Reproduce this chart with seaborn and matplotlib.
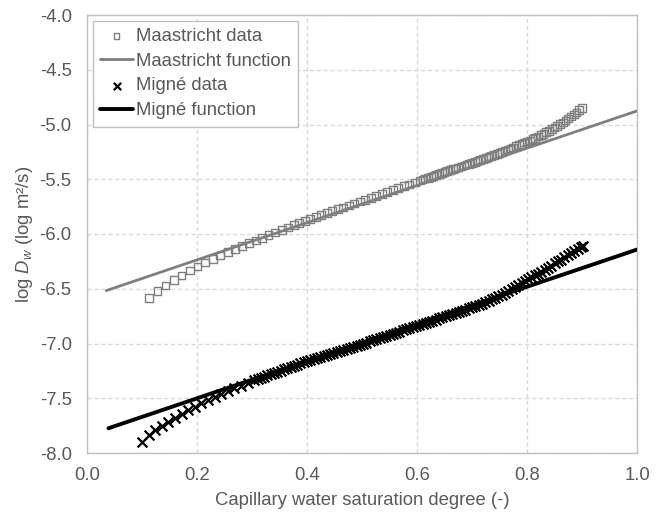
import matplotlib
matplotlib.use("Agg")
import matplotlib.pyplot as plt
import seaborn as sns
from matplotlib.ticker import FormatStrFormatter

# ---------------- data ----------------
maas_x = [0.113, 0.128, 0.143, 0.158, 0.172, 0.187, 0.201, 0.215, 0.229, 0.242,
          0.256, 0.269, 0.282, 0.295, 0.307, 0.318, 0.330, 0.342, 0.354, 0.365,
          0.376, 0.386, 0.396, 0.406, 0.416, 0.426, 0.436, 0.446, 0.456, 0.466,
          0.476, 0.486, 0.496, 0.506, 0.516, 0.526, 0.536, 0.546, 0.556, 0.566,
          0.576, 0.586, 0.596, 0.605, 0.610, 0.615, 0.620, 0.625, 0.630, 0.635,
          0.640, 0.645, 0.650, 0.655, 0.660, 0.665, 0.670, 0.675, 0.680, 0.685,
          0.690, 0.695, 0.700, 0.705, 0.710, 0.715, 0.720, 0.725, 0.730, 0.735,
          0.740, 0.745, 0.750, 0.755, 0.760, 0.765, 0.770, 0.775, 0.780, 0.785,
          0.790, 0.795, 0.800, 0.805, 0.810, 0.815, 0.820, 0.825, 0.830, 0.835,
          0.840, 0.845, 0.850, 0.855, 0.860, 0.865, 0.870, 0.875, 0.880, 0.885,
          0.890, 0.895, 0.900]
maas_y = [-6.584, -6.523, -6.470, -6.422, -6.378, -6.335, -6.297, -6.260, -6.226, -6.196,
          -6.165, -6.136, -6.108, -6.082, -6.058, -6.034, -6.008, -5.986, -5.963, -5.942,
          -5.920, -5.900, -5.880, -5.862, -5.844, -5.827, -5.809, -5.792, -5.774, -5.757,
          -5.739, -5.722, -5.704, -5.687, -5.669, -5.652, -5.634, -5.617, -5.599, -5.582,
          -5.564, -5.547, -5.529, -5.511, -5.503, -5.494, -5.486, -5.477, -5.469, -5.460,
          -5.452, -5.443, -5.435, -5.426, -5.418, -5.409, -5.401, -5.392, -5.384, -5.375,
          -5.367, -5.358, -5.350, -5.341, -5.332, -5.323, -5.314, -5.305, -5.296, -5.287,
          -5.277, -5.268, -5.258, -5.249, -5.239, -5.229, -5.219, -5.209, -5.198, -5.188,
          -5.177, -5.166, -5.155, -5.145, -5.134, -5.122, -5.110, -5.098, -5.085, -5.071,
          -5.057, -5.043, -5.028, -5.012, -4.996, -4.980, -4.963, -4.945, -4.927, -4.909,
          -4.890, -4.870, -4.850]

maas_fx = [0.035, 1.0]
maas_fy = [-6.517, -4.876]

migne_x = [0.100, 0.112, 0.124, 0.136, 0.148, 0.160, 0.172, 0.184, 0.196, 0.208,
           0.220, 0.232, 0.244, 0.256, 0.268, 0.280, 0.292,
           0.304, 0.310, 0.316, 0.322, 0.328, 0.334, 0.340, 0.346, 0.352, 0.358,
           0.364, 0.370, 0.376, 0.382, 0.388, 0.394, 0.400, 0.406, 0.412, 0.418,
           0.424, 0.430, 0.436, 0.442, 0.448, 0.454, 0.460, 0.466, 0.472, 0.478,
           0.484, 0.490, 0.496, 0.502, 0.508, 0.514, 0.520, 0.526, 0.532, 0.538,
           0.544, 0.550, 0.556, 0.562, 0.568, 0.574, 0.580, 0.586, 0.592, 0.598,
           0.604, 0.610, 0.616, 0.622, 0.628, 0.634, 0.640, 0.646, 0.652, 0.658,
           0.664, 0.670, 0.676, 0.682, 0.688, 0.694, 0.700, 0.706, 0.712, 0.718,
           0.724, 0.730, 0.736, 0.742, 0.748, 0.754, 0.760, 0.766, 0.772, 0.778,
           0.784, 0.790, 0.796, 0.802, 0.808, 0.814, 0.820, 0.826, 0.832, 0.838,
           0.844, 0.850, 0.856, 0.862, 0.868, 0.874, 0.880, 0.886, 0.892, 0.898,
           0.902]
migne_y = [-7.896, -7.835, -7.790, -7.750, -7.713, -7.678, -7.645, -7.611, -7.578, -7.546,
           -7.516, -7.488, -7.461, -7.435, -7.410, -7.386, -7.362,
           -7.335, -7.324, -7.313, -7.302, -7.291, -7.280, -7.269, -7.258, -7.248, -7.236,
           -7.225, -7.215, -7.204, -7.193, -7.181, -7.171, -7.160, -7.151, -7.142, -7.132,
           -7.123, -7.113, -7.104, -7.095, -7.085, -7.076, -7.067, -7.058, -7.049, -7.039,
           -7.030, -7.020, -7.011, -7.002, -6.991, -6.981, -6.971, -6.962, -6.952, -6.941,
           -6.931, -6.921, -6.912, -6.902, -6.891, -6.881, -6.871, -6.862, -6.852, -6.841,
           -6.831, -6.821, -6.811, -6.802, -6.791, -6.781, -6.771, -6.761, -6.751, -6.741,
           -6.731, -6.721, -6.711, -6.701, -6.690, -6.680, -6.670, -6.659, -6.648, -6.635,
           -6.622, -6.609, -6.596, -6.583, -6.568, -6.553, -6.536, -6.520, -6.503, -6.485,
           -6.467, -6.450, -6.433, -6.415, -6.396, -6.378, -6.361, -6.343, -6.325, -6.306,
           -6.288, -6.269, -6.251, -6.233, -6.213, -6.195, -6.177, -6.158, -6.140, -6.121,
           -6.110]

migne_fx = [0.039, 1.0]
migne_fy = [-7.774, -6.142]

x_ticks = [0.0, 0.2, 0.4, 0.6, 0.8, 1.0]
y_ticks = [-8.0, -7.5, -7.0, -6.5, -6.0, -5.5, -5.0, -4.5, -4.0]

x_label = "Capillary water saturation degree (-)"
y_label = r"log $D_w$ (log m²/s)"

# ---------------- style ----------------
sns.set_theme(style="white")
plt.rcParams["font.family"] = ["Liberation Sans", "DejaVu Sans"]
plt.rcParams["mathtext.fontset"] = "custom"
plt.rcParams["mathtext.rm"] = "Liberation Sans"
plt.rcParams["mathtext.it"] = "Liberation Sans:italic"
plt.rcParams["axes.unicode_minus"] = False

TXT = "#595959"
FS = 13.3

fig = plt.figure(figsize=(6.66, 5.15), dpi=100)
ax = fig.add_axes([87 / 666, 1 - 453 / 515, 550 / 666, 438 / 515])

sns.scatterplot(x=maas_x, y=maas_y, marker="s", s=30, facecolor="none",
                edgecolor="#7f7f7f", linewidth=1.0, label="Maastricht data",
                ax=ax, zorder=3)
sns.lineplot(x=maas_fx, y=maas_fy, color="#7f7f7f", linewidth=2.0,
             label="Maastricht function", ax=ax, zorder=4)
sns.scatterplot(x=migne_x, y=migne_y, marker="x", s=50, color="black",
                edgecolor="black", linewidth=1.6, label="Migné data",
                ax=ax, zorder=3)
sns.lineplot(x=migne_fx, y=migne_fy, color="black", linewidth=2.8,
             label="Migné function", ax=ax, zorder=4)

ax.set_xlim(0, 1.0)
ax.set_ylim(-8.0, -4.0)
ax.set_xticks(x_ticks)
ax.set_yticks(y_ticks)
ax.xaxis.set_major_formatter(FormatStrFormatter("%.1f"))
ax.yaxis.set_major_formatter(FormatStrFormatter("%.1f"))
ax.tick_params(axis="both", length=0, labelsize=FS, labelcolor=TXT)
ax.tick_params(axis="x", pad=10)
ax.tick_params(axis="y", pad=11)

ax.grid(True, color="#D9D9D9", linestyle=(0, (3, 2)), linewidth=1.0)
ax.set_axisbelow(True)
for sp in ax.spines.values():
    sp.set_color("#BFBFBF")
    sp.set_linewidth(1.0)

ax.set_xlabel(x_label, fontsize=FS, color=TXT, labelpad=6)
ax.set_ylabel(y_label, fontsize=FS, color=TXT, labelpad=3)

leg = ax.legend(loc="upper left", fontsize=FS, frameon=True, fancybox=False,
                edgecolor="#BFBFBF", framealpha=1.0, borderaxespad=0.3,
                handlelength=1.8, handletextpad=0.15, labelspacing=0.42,
                borderpad=0.4, markerscale=0.75)
leg.get_frame().set_linewidth(1.0)
for t in leg.get_texts():
    t.set_color(TXT)

fig.savefig("out.png", dpi=100)
